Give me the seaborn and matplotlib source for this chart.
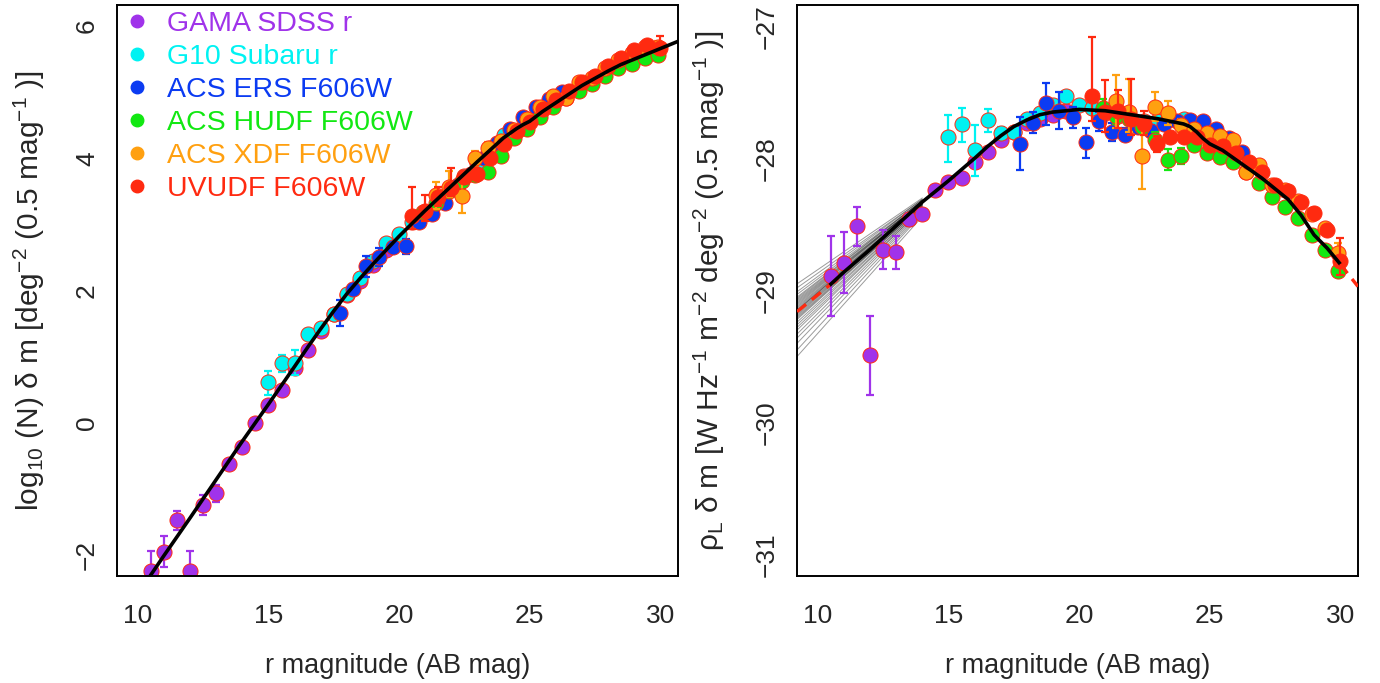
import numpy as np
import seaborn as sns
import matplotlib.pyplot as plt
from matplotlib.lines import Line2D
from matplotlib.ticker import MultipleLocator

# survey names and colours
surveys = ['GAMA SDSS r', 'G10 Subaru r', 'ACS ERS F606W', 'ACS HUDF F606W', 'ACS XDF F606W', 'UVUDF F606W']
colors = ['#A033EA', '#00F2F2', '#0B3BF2', '#12E812', '#FFA010', '#FF2A10']
edge_color = '#FF2A10'

# GAMA SDSS r
gama_mag = [10.5, 11.0, 11.5, 12.0, 12.5, 13.0, 13.5, 14.0, 14.5, 15.0, 15.5, 16.0, 16.5, 17.0, 17.5, 18.0, 18.5, 19.0, 19.5]
gama_logn = [-2.24, -1.95, -1.47, -2.24, -1.25, -1.07, -0.62, -0.37, 0.00, 0.27, 0.50, 0.82, 1.10, 1.39, 1.64, 1.93, 2.15, 2.38, 2.61]
gama_lum = [-28.89, -28.79, -28.51, -29.49, -28.69, -28.71, -28.46, -28.42, -28.24, -28.18, -28.15, -28.03, -27.95, -27.86, -27.80, -27.73, -27.70, -27.67, -27.64]
gama_lo = [0.30, 0.23, 0.15, 0.30, 0.15, 0.13, 0.05, 0.04, 0.03, 0.02, 0.02, 0.02, 0.01, 0.01, 0.01, 0.01, 0.01, 0.01, 0.01]
gama_hi = [0.30, 0.23, 0.14, 0.30, 0.15, 0.12, 0.05, 0.04, 0.03, 0.02, 0.02, 0.02, 0.01, 0.01, 0.01, 0.01, 0.01, 0.01, 0.01]

# G10 Subaru r
g10_mag = [15.0, 15.5, 16.0, 16.5, 17.0, 17.5, 18.0, 18.5, 19.0, 19.5, 20.0, 20.5, 21.0, 21.5, 22.0, 22.5, 23.0, 23.5, 24.0]
g10_logn = [0.61, 0.91, 0.91, 1.34, 1.44, 1.65, 1.95, 2.19, 2.45, 2.72, 2.85, 3.03, 3.19, 3.37, 3.55, 3.73, 3.93, 4.15, 4.35]
g10_lum = [-27.84, -27.74, -27.94, -27.71, -27.81, -27.80, -27.70, -27.66, -27.60, -27.53, -27.60, -27.62, -27.66, -27.68, -27.70, -27.72, -27.72, -27.70, -27.70]
g10_lo = [0.19, 0.14, 0.19, 0.09, 0.05, 0.04, 0.03, 0.03, 0.03, 0.02, 0.02, 0.02, 0.02, 0.02, 0.02, 0.02, 0.02, 0.02, 0.02]
g10_hi = [0.17, 0.12, 0.19, 0.08, 0.05, 0.04, 0.03, 0.03, 0.03, 0.02, 0.02, 0.02, 0.02, 0.02, 0.02, 0.02, 0.02, 0.02, 0.02]

# ACS ERS F606W
ers_mag = [17.75, 18.25, 18.75, 19.25, 19.75, 20.25, 20.75, 21.25, 21.75, 22.25, 22.75, 23.25, 23.75, 24.25, 24.75, 25.25, 25.75, 26.25]
ers_logn = [1.66, 2.02, 2.37, 2.51, 2.66, 2.67, 3.03, 3.15, 3.33, 3.59, 3.76, 4.01, 4.23, 4.44, 4.63, 4.77, 4.90, 5.00]
ers_lum = [-27.89, -27.73, -27.58, -27.64, -27.69, -27.88, -27.72, -27.80, -27.82, -27.76, -27.79, -27.74, -27.72, -27.71, -27.72, -27.78, -27.85, -27.95]
ers_lo = [0.20, 0.08, 0.17, 0.14, 0.08, 0.12, 0.07, 0.07, 0.05, 0.04, 0.04, 0.03, 0.03, 0.02, 0.02, 0.02, 0.02, 0.02]
ers_hi = [0.20, 0.08, 0.15, 0.14, 0.08, 0.11, 0.07, 0.07, 0.05, 0.04, 0.04, 0.03, 0.03, 0.02, 0.02, 0.02, 0.02, 0.02]

# ACS HUDF F606W
hudf_mag = [20.9, 21.4, 21.9, 22.4, 22.9, 23.4, 23.9, 24.4, 24.9, 25.4, 25.9, 26.4, 26.9, 27.4, 27.9, 28.4, 28.9, 29.4, 29.9]
hudf_logn = [3.19, 3.33, 3.51, 3.65, 3.75, 3.80, 4.03, 4.31, 4.45, 4.62, 4.78, 4.91, 5.02, 5.12, 5.24, 5.36, 5.43, 5.52, 5.56]
hudf_lum = [-27.62, -27.68, -27.70, -27.76, -27.86, -28.01, -27.98, -27.90, -27.96, -27.99, -28.03, -28.10, -28.19, -28.29, -28.37, -28.45, -28.58, -28.69, -28.85]
hudf_lo = [0.07, 0.06, 0.05, 0.05, 0.06, 0.08, 0.06, 0.04, 0.03, 0.03, 0.02, 0.02, 0.02, 0.02, 0.02, 0.02, 0.02, 0.02, 0.02]
hudf_hi = [0.07, 0.06, 0.05, 0.05, 0.06, 0.08, 0.06, 0.04, 0.03, 0.03, 0.02, 0.02, 0.02, 0.02, 0.02, 0.02, 0.02, 0.02, 0.02]

# ACS XDF F606W
xdf_mag = [21.4, 21.9, 22.4, 22.9, 23.4, 23.9, 24.4, 24.9, 25.4, 25.9, 26.4, 26.9, 27.4, 27.9, 28.4, 28.9, 29.4, 29.9]
xdf_logn = [3.44, 3.56, 3.43, 4.00, 4.15, 4.26, 4.43, 4.60, 4.78, 4.95, 4.91, 5.16, 5.21, 5.37, 5.49, 5.59, 5.68, 5.69]
xdf_lum = [-27.57, -27.65, -27.98, -27.61, -27.66, -27.75, -27.78, -27.81, -27.83, -27.86, -28.10, -28.05, -28.20, -28.24, -28.32, -28.42, -28.53, -28.72]
xdf_lo = [0.20, 0.15, 0.25, 0.11, 0.09, 0.05, 0.04, 0.03, 0.03, 0.03, 0.02, 0.02, 0.02, 0.02, 0.02, 0.02, 0.03, 0.08]
xdf_hi = [0.20, 0.25, 0.26, 0.11, 0.09, 0.05, 0.04, 0.03, 0.03, 0.03, 0.02, 0.02, 0.02, 0.02, 0.02, 0.02, 0.03, 0.08]

# UVUDF F606W
uv_mag = [20.5, 21.0, 21.5, 22.0, 22.5, 23.0, 23.5, 24.0, 24.5, 25.0, 25.5, 26.0, 26.5, 27.0, 27.5, 28.0, 28.5, 29.0, 29.5, 30.0]
uv_logn = [3.12, 3.20, 3.41, 3.55, 3.71, 3.76, 4.01, 4.21, 4.41, 4.55, 4.74, 4.89, 5.02, 5.15, 5.25, 5.40, 5.52, 5.64, 5.71, 5.67]
uv_lum = [-27.53, -27.65, -27.64, -27.70, -27.74, -27.89, -27.84, -27.84, -27.84, -27.90, -27.91, -27.96, -28.03, -28.10, -28.20, -28.25, -28.33, -28.41, -28.54, -28.78]
uv_lo = [0.19, 0.15, 0.13, 0.12, 0.08, 0.06, 0.04, 0.03, 0.03, 0.02, 0.02, 0.02, 0.02, 0.02, 0.02, 0.02, 0.02, 0.02, 0.03, 0.10]
uv_hi = [0.45, 0.24, 0.16, 0.30, 0.10, 0.06, 0.04, 0.03, 0.03, 0.02, 0.02, 0.02, 0.02, 0.02, 0.02, 0.02, 0.02, 0.02, 0.03, 0.18]

# fitted curves
fit_mag = [10.45, 11.0, 12.0, 13.0, 14.0, 15.0, 16.0, 16.5, 17.0, 17.5, 18.0, 18.5, 19.0, 19.5, 20.0, 21.0, 22.0, 23.0,
           24.0, 24.25, 24.5, 24.75, 25.0, 25.5, 26.0, 27.0, 28.0, 28.5, 29.0, 29.5, 30.0, 30.68]
fit_logn = [-2.33, -2.01, -1.44, -0.86, -0.28, 0.28, 0.85, 1.14, 1.42, 1.69, 1.95, 2.18, 2.40, 2.61, 2.82, 3.21, 3.58, 3.95,
            4.31, 4.38, 4.45, 4.51, 4.56, 4.71, 4.84, 5.10, 5.32, 5.42, 5.50, 5.58, 5.66, 5.77]
fit_lum = [-28.96, -28.86, -28.69, -28.51, -28.33, -28.17, -28.00, -27.91, -27.83, -27.76, -27.71, -27.67, -27.65, -27.64,
           -27.63, -27.64, -27.67, -27.70, -27.74, -27.76, -27.80, -27.85, -27.89, -27.94, -28.01, -28.15, -28.31, -28.43,
           -28.58, -28.68, -28.80, -28.97]
# extrapolated ends (red dashed), right panel
ext_lo_mag = [9.2, 10.45]
ext_lo_lum = [-29.16, -28.96]
ext_hi_mag = [30.0, 30.68]
ext_hi_lum = [-28.80, -28.97]
# bright-end fan of resampled fits, right panel
fan_start_mag = 9.2
fan_end_mag = 14.0
fan_start = [-28.95, -28.98, -29.01, -29.03, -29.05, -29.06, -29.07, -29.08, -29.09, -29.10, -29.11, -29.12,
             -29.13, -29.14, -29.15, -29.15, -29.16, -29.17, -29.18, -29.19, -29.20, -29.21, -29.22, -29.24,
             -29.26, -29.28, -29.30, -29.33, -29.36, -29.40, -29.45, -29.50]
fan_end = [-28.30, -28.31, -28.31, -28.32, -28.32, -28.32, -28.33, -28.33, -28.33, -28.33, -28.33, -28.34,
           -28.34, -28.34, -28.34, -28.34, -28.35, -28.35, -28.35, -28.35, -28.36, -28.36, -28.36, -28.37,
           -28.37, -28.38, -28.38, -28.39, -28.40, -28.41, -28.42, -28.44]

datasets = [
    (gama_mag, gama_logn, gama_lum, gama_lo, gama_hi),
    (g10_mag, g10_logn, g10_lum, g10_lo, g10_hi),
    (ers_mag, ers_logn, ers_lum, ers_lo, ers_hi),
    (hudf_mag, hudf_logn, hudf_lum, hudf_lo, hudf_hi),
    (xdf_mag, xdf_logn, xdf_lum, xdf_lo, xdf_hi),
    (uv_mag, uv_logn, uv_lum, uv_lo, uv_hi),
]

# style
sns.set_style('white')
plt.rcParams['font.family'] = ['Liberation Sans', 'DejaVu Sans']
plt.rcParams['mathtext.default'] = 'regular'

fig = plt.figure(figsize=(13.8, 6.83), dpi=100)
ax1 = fig.add_axes([117 / 1380, 107 / 683, 561 / 1380, 571 / 683])
ax2 = fig.add_axes([797 / 1380, 107 / 683, 561 / 1380, 571 / 683])

# left panel: number counts
for i, (mag, logn, lum, lo, hi) in enumerate(datasets):
    ax1.errorbar(mag, logn, yerr=[lo, hi], fmt='none', ecolor=colors[i], elinewidth=1.6,
                 capsize=3.2, capthick=1.6, zorder=2 + i)
    sns.scatterplot(x=mag, y=logn, color=colors[i], s=118, edgecolor=edge_color, linewidth=0.7,
                    ax=ax1, zorder=2.5 + i)
sns.lineplot(x=fit_mag, y=fit_logn, color='black', linewidth=2.6, sort=False, estimator=None, ax=ax1, zorder=20)

# right panel: luminosity density
for s, e in zip(fan_start, fan_end):
    ax2.plot([fan_start_mag, fan_end_mag], [s, e], color='#111111', alpha=0.42, linewidth=0.7, zorder=1)
for i, (mag, logn, lum, lo, hi) in enumerate(datasets):
    ax2.errorbar(mag, lum, yerr=[lo, hi], fmt='none', ecolor=colors[i], elinewidth=1.6,
                 capsize=3.2, capthick=1.6, zorder=2 + i)
    sns.scatterplot(x=mag, y=lum, color=colors[i], s=118, edgecolor=edge_color, linewidth=0.7,
                    ax=ax2, zorder=2.5 + i)
sns.lineplot(x=fit_mag[:-1], y=fit_lum[:-1], color='black', linewidth=2.6, sort=False, estimator=None, ax=ax2, zorder=20)
for xs, ys in [(ext_lo_mag, ext_lo_lum), (ext_hi_mag, ext_hi_lum)]:
    ax2.plot(xs, ys, color='#FF2A10', linewidth=2.4, linestyle=(0, (3.5, 2.2)), zorder=21)

# axes styling (R-like boxed frames, inward ticks)
for ax in (ax1, ax2):
    ax.set_xlim(9.2, 30.68)
    ax.xaxis.set_major_locator(MultipleLocator(5))
    ax.xaxis.set_minor_locator(MultipleLocator(1))
    ax.tick_params(which='major', direction='in', length=13, width=1.4, labelsize=19,
                   top=False, right=False)
    ax.tick_params(axis='x', which='major', pad=20)
    ax.tick_params(axis='y', which='major', pad=13)
    ax.tick_params(which='minor', direction='in', length=7, width=1.4, top=False, right=False)
    for sp in ax.spines.values():
        sp.set_visible(True)
        sp.set_color('black')
        sp.set_linewidth(1.4)
    ax.set_xlabel('r magnitude (AB mag)', fontsize=19.5)
    ax.xaxis.set_label_coords(0.5, -0.135)

ax1.set_ylim(-2.32, 6.32)
ax1.yaxis.set_major_locator(MultipleLocator(2))
ax1.yaxis.set_minor_locator(MultipleLocator(0.5))
ax1.set_ylabel('log$_{10}$ (N) δ m [deg$^{-2}$ (0.5 mag$^{-1}$ )]', fontsize=21.5)
ax1.yaxis.set_label_coords(-0.125, 0.5)

ax2.set_ylim(-31.16, -26.84)
ax2.yaxis.set_major_locator(MultipleLocator(1))
ax2.yaxis.set_minor_locator(MultipleLocator(0.2))
ax2.set_ylabel('ρ$_L$ δ m [W Hz$^{-1}$ m$^{-2}$ deg$^{-2}$ (0.5 mag$^{-1}$ )]', fontsize=21.5)
ax2.yaxis.set_label_coords(-0.125, 0.5)

for ax in (ax1, ax2):
    plt.setp(ax.get_yticklabels(), rotation=90, va='center')

# legend
handles = [Line2D([0], [0], marker='o', linestyle='', color=c, markersize=9) for c in colors]
ax1.legend(handles, surveys, loc='upper left', bbox_to_anchor=(0, 1), borderaxespad=0, borderpad=0.2,
           frameon=False, fontsize=20.5, labelcolor=colors, handlelength=1.0, handletextpad=0.55,
           labelspacing=0.25)

fig.savefig('out.png', dpi=100)
